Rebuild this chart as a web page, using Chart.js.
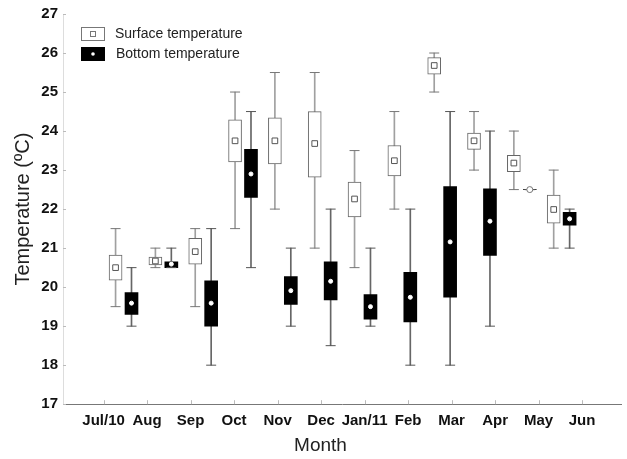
<!DOCTYPE html>
<html lang="en">
<head>
<meta charset="UTF-8">
<title>Surface and bottom temperature by month</title>
<script src="https://cdn.jsdelivr.net/npm/chart.js@4.4.0/dist/chart.umd.min.js"></script>
<style>
    body { margin: 0; background: #fff; }
    #wrap { width: 627px; height: 459px; }
</style>
</head>
<body>
<div id="wrap"><canvas id="tempChart"></canvas></div>
<script>
    // Month labels on the x axis
    const months = ['Jul/10', 'Aug', 'Sep', 'Oct', 'Nov', 'Dec', 'Jan/11', 'Feb', 'Mar', 'Apr', 'May', 'Jun'];

    // Surface temperature (ºC): whisker min, box q1, median, box q3, whisker max
    const surfaceMin = [19.5, 20.5, 19.5, 21.5, 22.0, 21.0, 20.5, 22.0, 25.0, 23.0, 22.5, 21.0];
    const surfaceQ1  = [20.18, 20.57, 20.59, 23.21, 23.16, 22.82, 21.8, 22.85, 25.46, 23.53, 22.96, 21.64];
    const surfaceMed = [20.5, 20.67, 20.91, 23.75, 23.75, 23.68, 22.26, 23.24, 25.68, 23.75, 23.18, 21.99];
    const surfaceQ3  = [20.82, 20.77, 21.25, 24.29, 24.34, 24.5, 22.69, 23.63, 25.88, 23.95, 23.38, 22.36];
    const surfaceMax = [21.5, 21.0, 21.5, 25.0, 25.5, 25.5, 23.5, 24.5, 26.0, 24.5, 24.0, 23.0];

    // Bottom temperature (ºC)
    const bottomMin = [19.0, 20.5, 18.0, 20.5, 19.0, 18.5, 19.0, 18.0, 18.0, 19.0, 22.5, 21.0];
    const bottomQ1  = [19.3, 20.5, 19.0, 22.3, 19.56, 19.67, 19.18, 19.11, 19.74, 20.81, 22.5, 21.59];
    const bottomMed = [19.59, 20.59, 19.59, 22.9, 19.91, 20.15, 19.5, 19.74, 21.16, 21.69, 22.5, 21.75];
    const bottomQ3  = [19.86, 20.65, 20.16, 23.53, 20.27, 20.65, 19.81, 20.38, 22.58, 22.52, 22.5, 21.92];
    const bottomMax = [20.5, 21.0, 21.5, 24.5, 21.0, 22.0, 21.0, 22.0, 24.5, 24.0, 22.5, 22.0];

    const yTicks = [17, 18, 19, 20, 21, 22, 23, 24, 25, 26, 27];

    // layout of the x axis (month ticks sit on a slightly wider grid than the boxes)
    const pairOffset = 0.2;
    const tickStart = -0.5;
    const tickStep = 1.092;

    const tickFont = "'Liberation Sans', Arial, sans-serif";
    const plainFont = "'Liberation Sans', Arial, sans-serif";

    function boxData(offset, lo, hi) {
        return months.map((m, i) => ({ x: i + offset, y: [lo[i], hi[i]] }));
    }
    function capData(offset, lo, hi) {
        const pts = [];
        months.forEach((m, i) => {
            pts.push({ x: i + offset, y: lo[i] });
            pts.push({ x: i + offset, y: hi[i] });
        });
        return pts;
    }
    function pointData(offset, vals) {
        return months.map((m, i) => ({ x: i + offset, y: vals[i] }));
    }

    // small inward tick marks on both axes
    const innerTicks = {
        id: 'innerTicks',
        afterDraw(chart) {
            const { ctx, chartArea, scales } = chart;
            ctx.save();
            ctx.strokeStyle = '#bbb';
            ctx.lineWidth = 1;
            scales.x.ticks.forEach(t => {
                const px = Math.round(scales.x.getPixelForValue(t.value)) + 0.5;
                ctx.beginPath();
                ctx.moveTo(px, chartArea.bottom);
                ctx.lineTo(px, chartArea.bottom - 4);
                ctx.stroke();
            });
            yTicks.forEach(v => {
                const py = Math.round(scales.y.getPixelForValue(v)) + 0.5;
                ctx.beginPath();
                ctx.moveTo(chartArea.left, py);
                ctx.lineTo(chartArea.left + 3, py);
                ctx.stroke();
            });
            ctx.restore();
        }
    };

    // legend with the box symbol and marker inside
    const boxLegend = {
        id: 'boxLegend',
        afterDraw(chart) {
            const { ctx, chartArea } = chart;
            const x = chartArea.left + 18;
            const y = chartArea.top + 13;
            ctx.save();
            // surface
            ctx.fillStyle = '#fff';
            ctx.strokeStyle = '#777';
            ctx.lineWidth = 1;
            ctx.fillRect(x, y, 24, 14);
            ctx.strokeRect(x + 0.5, y + 0.5, 23, 13);
            ctx.strokeRect(x + 9.5, y + 4.5, 5, 5);
            // bottom
            ctx.fillStyle = '#000';
            ctx.fillRect(x, y + 20, 24, 14);
            ctx.fillStyle = '#fff';
            ctx.beginPath();
            ctx.arc(x + 12, y + 27, 1.8, 0, Math.PI * 2);
            ctx.fill();
            ctx.fillStyle = '#222';
            ctx.font = '14px ' + plainFont;
            ctx.textBaseline = 'middle';
            ctx.fillText('Surface temperature', x + 34, y + 7);
            ctx.fillText('Bottom temperature', x + 35, y + 27);
            ctx.restore();
        }
    };

    const ctx = document.getElementById('tempChart').getContext('2d');
    const tempChart = new Chart(ctx, {
        type: 'bar',
        data: {
            datasets: [
                { type: 'bar', label: 'Surface range', data: boxData(-pairOffset, surfaceMin, surfaceMax),
                  backgroundColor: '#a0a0a0', barThickness: 1, grouped: false, order: 6 },
                { type: 'bar', label: 'Bottom range', data: boxData(pairOffset, bottomMin, bottomMax),
                  backgroundColor: '#666', barThickness: 1, grouped: false, order: 6 },
                { type: 'bar', label: 'Surface temperature', data: boxData(-pairOffset, surfaceQ1, surfaceQ3),
                  backgroundColor: '#fff', borderColor: '#666', borderWidth: 1, borderSkipped: false,
                  barThickness: 13, grouped: false, order: 5 },
                { type: 'bar', label: 'Bottom temperature', data: boxData(pairOffset, bottomQ1, bottomQ3),
                  backgroundColor: '#000', borderColor: '#000', borderWidth: 0, borderSkipped: false,
                  barThickness: 13, grouped: false, order: 5 },
                { type: 'scatter', label: 'Surface caps', data: capData(-pairOffset, surfaceMin, surfaceMax),
                  pointStyle: 'line', pointRadius: 5, borderColor: '#777', borderWidth: 1, order: 3 },
                { type: 'scatter', label: 'Bottom caps', data: capData(pairOffset, bottomMin, bottomMax),
                  pointStyle: 'line', pointRadius: 5, borderColor: '#555', borderWidth: 1, order: 3 },
                { type: 'scatter', label: 'Surface median', data: pointData(-pairOffset, surfaceMed),
                  pointStyle: 'rect', pointRadius: 4, backgroundColor: 'rgba(0,0,0,0)',
                  borderColor: '#555', borderWidth: 1, order: 1 },
                { type: 'scatter', label: 'Bottom median', data: pointData(pairOffset, bottomMed),
                  pointStyle: 'circle',
                  pointRadius: c => bottomQ1[c.dataIndex] === bottomQ3[c.dataIndex] ? 3 : 2,
                  backgroundColor: '#fff',
                  borderColor: c => bottomQ1[c.dataIndex] === bottomQ3[c.dataIndex] ? '#777' : '#fff',
                  borderWidth: 1, order: 1 }
            ]
        },
        options: {
            responsive: true,
            maintainAspectRatio: false,
            animation: false,
            layout: { padding: { top: 10, right: 2, left: 16 } },
            plugins: {
                legend: { display: false },
                tooltip: { enabled: false },
                title: {
                    display: true,
                    position: 'bottom',
                    text: 'Month',
                    color: '#222',
                    font: { family: plainFont, size: 19, weight: 'normal' },
                    padding: { top: 0, bottom: 2 }
                }
            },
            scales: {
                x: {
                    type: 'linear',
                    min: -1.52,
                    max: 12.49,
                    offset: false,
                    grid: { display: false, drawTicks: false },
                    border: { display: true, color: '#777' },
                    afterBuildTicks: scale => {
                        scale.ticks = months.map((m, i) => ({ value: tickStart + i * tickStep }));
                    },
                    afterFit: scale => { scale.height = 30; },
                    ticks: {
                        autoSkip: false,
                        maxRotation: 0,
                        padding: 8,
                        color: '#111',
                        font: { family: tickFont, size: 15, weight: 'bold' },
                        callback: (v, i) => months[i]
                    }
                },
                y: {
                    min: 17,
                    max: 27,
                    grid: { display: false, drawTicks: false },
                    border: { display: true, color: '#ddd' },
                    afterBuildTicks: scale => {
                        scale.ticks = yTicks.map(v => ({ value: v }));
                    },
                    afterFit: scale => { scale.width = 47; },
                    ticks: {
                        padding: 5,
                        color: '#111',
                        font: { family: tickFont, size: 15, weight: 'bold' }
                    },
                    title: {
                        display: true,
                        text: 'Temperature (ºC)',
                        color: '#222',
                        font: { family: plainFont, size: 20 },
                        padding: { top: -5, bottom: 0 }
                    }
                }
            }
        },
        plugins: [innerTicks, boxLegend]
    });
</script>
</body>
</html>
